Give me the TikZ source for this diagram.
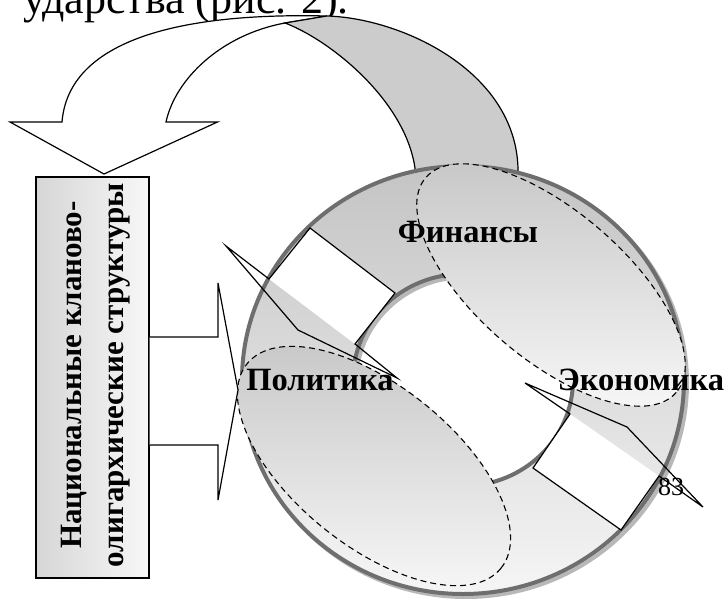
\documentclass[tikz,border=0pt]{standalone}
\usepackage{fontspec}
\setmainfont{Liberation Serif}
\begin{document}
\begin{tikzpicture}[x=1pt,y=-1pt,
    lbl/.style={font=\fontsize{32.5}{38}\selectfont\bfseries, inner sep=0pt, anchor=base},
    rimline/.style={draw=black!57, line width=4pt},
    rimshadow/.style={draw=black!28, line width=4pt},
    zone/.style={top color=black!21, bottom color=black!4, draw, line width=1.1pt, dash pattern=on 6pt off 4pt},
    outl/.style={draw, line width=1.2pt, line join=miter}]
    \useasboundingbox (0,0) rectangle (725,598);
    \node[anchor=base west, inner sep=0pt, font=\fontsize{44}{52}\selectfont] (cap) at (23,13) {ударства (рис. 2).};
    \fill[white] (10,122) -- (62,122) .. controls (68,48) and (160,12) .. (327,16) -- (285,23)
        .. controls (220,35) and (175,80) .. (166,122) -- (217.5,122) -- (104,174) -- cycle;
    \draw[outl] (10,122) -- (62,122) .. controls (68,48) and (160,12) .. (327,16) -- (285,23)
        .. controls (220,35) and (175,80) .. (166,122) -- (217.5,122) -- (104,174) -- cycle;
    \draw[outl, fill=black!20] (327,16) .. controls (400,18) and (515,70) .. (518,168) -- (518,200)
        -- (415,200) -- (415,168) .. controls (405,100) and (330,40) .. (285,23) -- cycle;
    \coordinate (ctr) at (463,380);
    \draw[rimshadow] ([shift={(3,3)}]ctr) ellipse[x radius=221, y radius=214];
    \draw[rimshadow] ([shift={(3,3)}]ctr) ellipse[x radius=110, y radius=106];
    \path[top color=black!23, bottom color=black!4, even odd rule] (ctr) ellipse[x radius=221, y radius=214]
        (ctr) ellipse[x radius=110, y radius=106];
    \draw[rimline] (ctr) ellipse[x radius=221, y radius=214];
    \draw[rimline] (ctr) ellipse[x radius=110, y radius=106];
    \begin{scope}[shift={(551,285)}, rotate=-40.6]
        \draw[zone] (0,0) ellipse[x radius=165, y radius=74];
    \end{scope}
    \begin{scope}[shift={(374,466)}, rotate=-38.8]
        \draw[zone] (0,0) ellipse[x radius=163, y radius=80];
    \end{scope}
    \node[inner sep=0pt, anchor=base, font=\fontsize{26}{30}\selectfont] (pg) at (671,495) {83};
    \coordinate (a1) at (310,228);
    \coordinate (b1) at (395,293);
    \coordinate (c1) at (355,344);
    \coordinate (d1) at (397,378);
    \coordinate (e1) at (298,330);
    \coordinate (f1) at (226,246);
    \coordinate (g1) at (269,279);
    \fill[white] (a1) -- (b1) -- (c1) -- (g1) -- cycle;
    \draw[outl] (a1) -- (b1) -- (c1) -- (d1) -- (e1) -- (f1) -- (g1) -- cycle;
    \coordinate (a2) at (621,530);
    \coordinate (b2) at (533,468);
    \coordinate (c2) at (570,414);
    \coordinate (d2) at (525,383);
    \coordinate (e2) at (627,427);
    \coordinate (f2) at (703,507);
    \coordinate (g2) at (659,476);
    \fill[white] (c2) -- (b2) -- (a2) -- (g2) -- cycle;
    \draw[outl] (d2) -- (e2) -- (f2) -- (g2) -- (a2) -- (b2) -- (c2) -- cycle;
    \node[draw, line width=1.2pt, left color=black!16, right color=black!3, minimum width=113pt,
        minimum height=401pt, inner sep=0pt] (box) at (92.5,377.5) {};
    \node[rotate=90, align=center, inner sep=0pt, font=\fontsize{31}{42}\selectfont\bfseries] (nat)
        at (96,375) {Национальные кланово-\\олигархические структуры};
    \draw[outl, fill=white] (box.east |- 0,337) -- (218,337) -- (218,283) -- (238,390) -- (218,500)
        -- (218,445) -- (box.east |- 0,445);
    \node[lbl] (fin) at (468,242) {Финансы};
    \node[lbl] (pol) at (320,390) {Политика};
    \node[lbl] (eco) at (641,390) {Экономика};
\end{tikzpicture}
\end{document}
